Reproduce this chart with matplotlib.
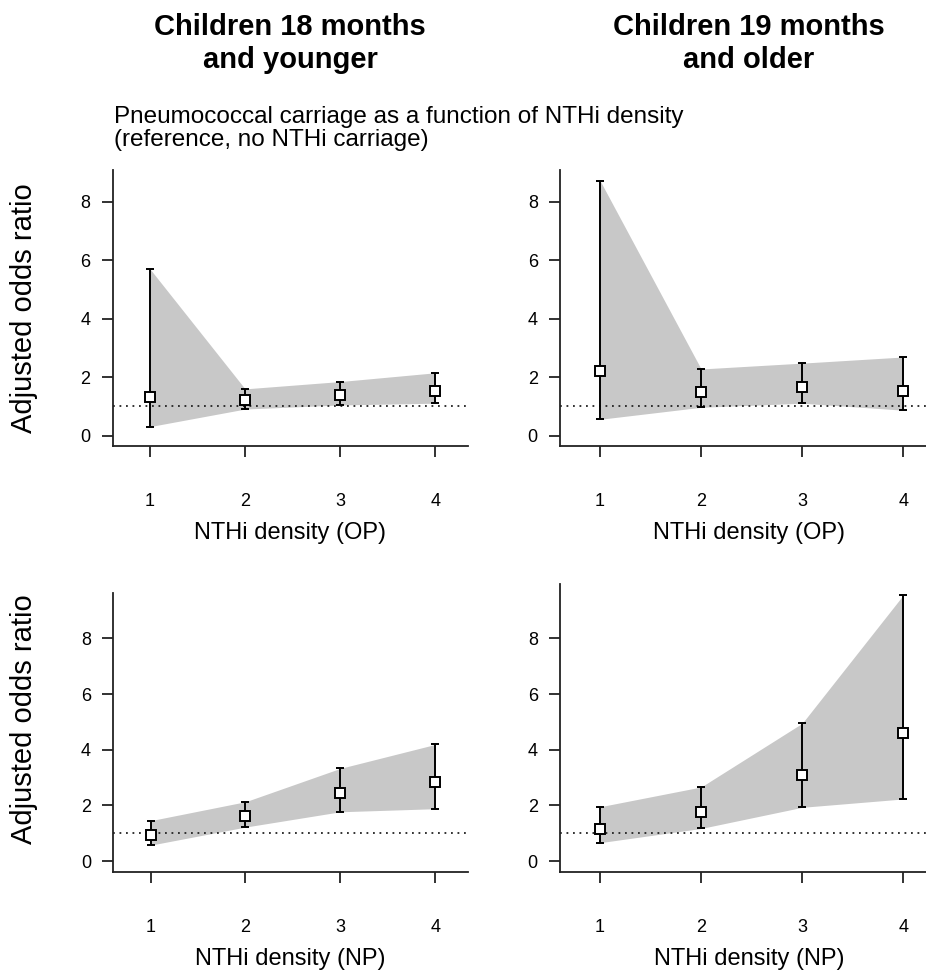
import matplotlib
matplotlib.use("Agg")
import matplotlib.pyplot as plt
import numpy as np

plt.rcParams['font.family'] = ['Liberation Sans', 'DejaVu Sans']

# density categories
density = [1, 2, 3, 4]

# OP density, children 18 months and younger
op_young_or = [1.32, 1.22, 1.39, 1.53]
op_young_lo = [0.31, 0.91, 1.05, 1.11]
op_young_hi = [5.70, 1.60, 1.85, 2.15]

# OP density, children 19 months and older
op_old_or = [2.22, 1.49, 1.66, 1.52]
op_old_lo = [0.56, 0.97, 1.11, 0.87]
op_old_hi = [8.72, 2.28, 2.48, 2.69]

# NP density, children 18 months and younger
np_young_or = [0.92, 1.62, 2.43, 2.83]
np_young_lo = [0.57, 1.22, 1.77, 1.88]
np_young_hi = [1.45, 2.13, 3.33, 4.19]

# NP density, children 19 months and older
np_old_or = [1.15, 1.76, 3.08, 4.59]
np_old_lo = [0.66, 1.17, 1.93, 2.23]
np_old_hi = [1.95, 2.66, 4.95, 9.56]

y_ticks = [0, 2, 4, 6, 8]

W, H = 926, 972
fig = plt.figure(figsize=(W / 100, H / 100), dpi=100)


def px_axes(left, top, right, bottom):
    return fig.add_axes([left / W, 1 - bottom / H, (right - left) / W, (bottom - top) / H])


def draw_panel(ax, orr, lo, hi, xlim, ylim, xlabel):
    orr = np.array(orr)
    lo = np.array(lo)
    hi = np.array(hi)
    ax.fill_between(density, lo, hi, color='#c8c8c8', lw=0, zorder=1)
    ax.axhline(1, color='#222222', lw=1.3, ls=(0, (1, 2.6)), zorder=2)
    ax.errorbar(density, orr, yerr=[orr - lo, hi - orr], fmt='s', ms=7.2,
                mfc='white', mec='black', mew=1.4, ecolor='black',
                elinewidth=1.4, capsize=3, capthick=1.4, zorder=3)
    ax.set_xlim(*xlim)
    ax.set_ylim(*ylim)
    ax.set_xticks(density)
    ax.set_yticks(y_ticks)
    for s in ['top', 'right']:
        ax.spines[s].set_visible(False)
    for s in ['left', 'bottom']:
        ax.spines[s].set_linewidth(1.3)
        ax.spines[s].set_color('#222222')
    ax.tick_params(axis='x', direction='out', length=8, width=1.3, labelsize=13,
                   pad=26, colors='#222222', labelcolor='black')
    ax.tick_params(axis='y', direction='out', length=8, width=1.3, labelsize=13,
                   pad=8, colors='#222222', labelcolor='black')
    ax.set_xlabel(xlabel, fontsize=17, labelpad=9)
    ax.patch.set_alpha(0)


ax1 = px_axes(112.7, 170.1, 467.6, 445.6)
draw_panel(ax1, op_young_or, op_young_lo, op_young_hi, (0.608, 4.34), (-0.34, 9.08),
           'NTHi density (OP)')
ax2 = px_axes(560, 170.1, 937.7, 445.6)
draw_panel(ax2, op_old_or, op_old_lo, op_old_hi, (0.604, 4.34), (-0.34, 9.08),
           'NTHi density (OP)')
ax3 = px_axes(113.3, 593.3, 467.6, 871.6)
draw_panel(ax3, np_young_or, np_young_lo, np_young_hi, (0.608, 4.34), (-0.38, 9.62),
           'NTHi density (NP)')
ax4 = px_axes(560, 584.1, 937.7, 871.6)
draw_panel(ax4, np_old_or, np_old_lo, np_old_hi, (0.604, 4.34), (-0.38, 9.95),
           'NTHi density (NP)')

# y labels (left column only)
fig.text(24 / W, 1 - 308 / H, 'Adjusted odds ratio', rotation=90, fontsize=21,
         ha='center', va='center')
fig.text(24 / W, 1 - 719 / H, 'Adjusted odds ratio', rotation=90, fontsize=21,
         ha='center', va='center')

# column titles
fig.text(290 / W, 1 - 35 / H, 'Children 18 months', fontsize=21, fontweight='bold',
         ha='center', va='baseline')
fig.text(290 / W, 1 - 68 / H, 'and younger', fontsize=21, fontweight='bold',
         ha='center', va='baseline')
fig.text(749 / W, 1 - 35 / H, 'Children 19 months', fontsize=21, fontweight='bold',
         ha='center', va='baseline')
fig.text(749 / W, 1 - 68 / H, 'and older', fontsize=21, fontweight='bold',
         ha='center', va='baseline')

# subtitle
fig.text(114 / W, 1 - 123 / H, 'Pneumococcal carriage as a function of NTHi density',
         fontsize=17.5, ha='left', va='baseline')
fig.text(114 / W, 1 - 146 / H, '(reference, no NTHi carriage)',
         fontsize=17.5, ha='left', va='baseline')

fig.savefig('out.png', dpi=100)
